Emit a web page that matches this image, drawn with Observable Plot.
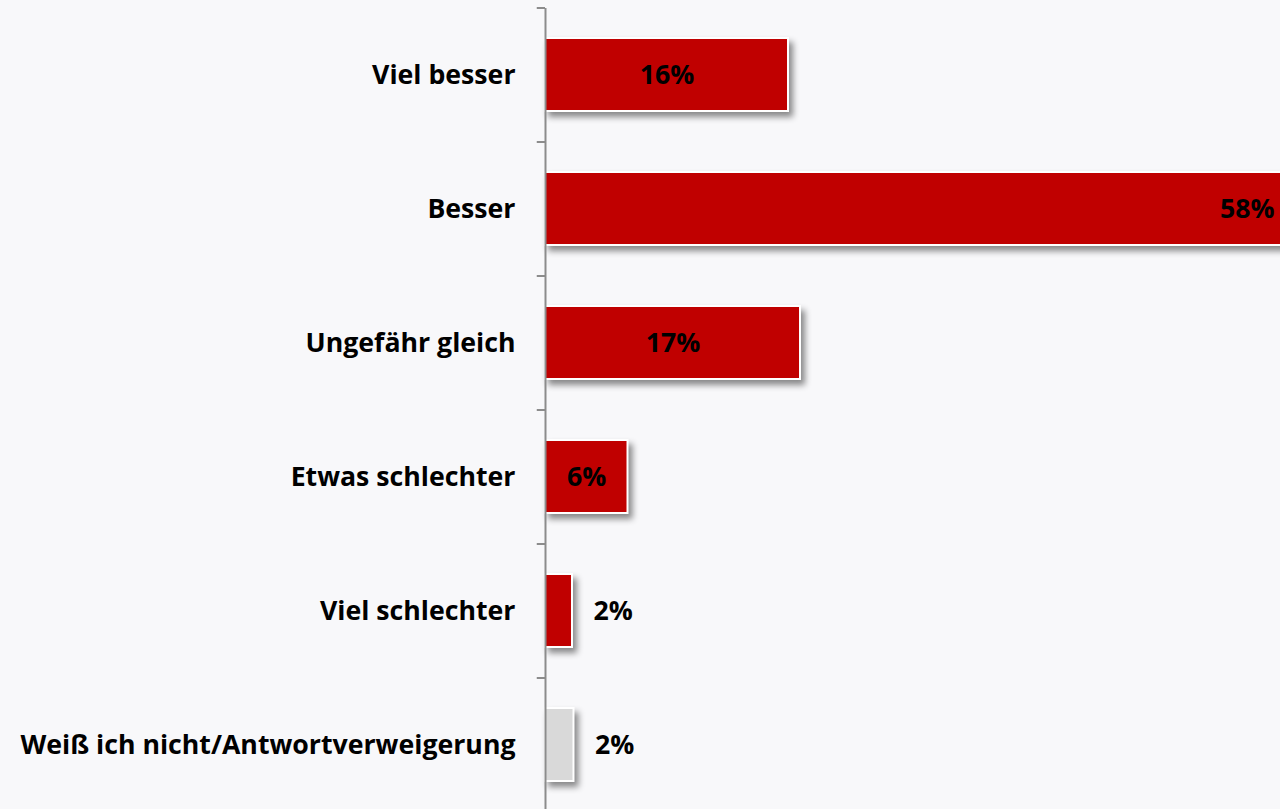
<!DOCTYPE html>
<html>
<head>
<meta charset="utf-8">
<script src="https://cdn.jsdelivr.net/npm/d3@7"></script>
<script src="https://cdn.jsdelivr.net/npm/@observablehq/plot@0.6"></script>
<style>
  html, body { margin: 0; padding: 0; background: #f8f8fa; }
  #chart { width: 1280px; height: 809px; overflow: hidden; }
  #chart svg { overflow: hidden; }
</style>
</head>
<body>
<div id="chart"></div>
<script>
const categories = ["Viel besser", "Besser", "Ungefähr gleich", "Etwas schlechter", "Viel schlechter", "Weiß ich nicht/Antwortverweigerung"];
const values = [16.2, 58, 17.0, 5.5, 1.8, 1.9];
const valueLabels = ["16%", "58%", "17%", "6%", "2%", "2%"];
const colors = ["#c00000", "#c00000", "#c00000", "#c00000", "#c00000", "#d9d9d9"];

const data = categories.map((c, i) => ({category: c, value: values[i], label: valueLabels[i], color: colors[i]}));
const xMax = 49;
const inside = data.filter(d => d.value >= 5 && d.value <= xMax);
const clipped = data.filter(d => d.value > xMax);
const outside = data.filter(d => d.value < 5);

const font = "'Open Sans', Lato, sans-serif";
const fs = 26.7;

const plot = Plot.plot({
  width: 1280,
  height: 812,
  marginLeft: 545,
  marginRight: 0,
  marginTop: 8,
  marginBottom: 0,
  style: {background: "#f8f8fa", fontFamily: font, color: "#000"},
  x: {domain: [0, xMax], axis: null},
  y: {domain: categories, paddingInner: 0.455, paddingOuter: 0.2275, label: null},
  color: {type: "identity"},
  marks: [
    Plot.barX(data, {y: "category", x: "value", fill: "color", stroke: "#ffffff", strokeWidth: 2}),
    Plot.ruleX([0], {stroke: "#8c8c8c", strokeWidth: 2}),
    Plot.ruleY(categories, {y: d => d, x1: -0.55, x2: 0, dy: -67, stroke: "#8c8c8c", strokeWidth: 2}),
    Plot.axisY({tickSize: 0, tickPadding: 30, fontSize: fs, fontWeight: "bold", fill: "#000"}),
    Plot.text(inside, {y: "category", x: d => d.value / 2, text: "label", fontSize: fs, fontWeight: "bold", fill: "#000"}),
    Plot.text(clipped, {y: "category", x: xMax, text: "label", textAnchor: "end", dx: -6, fontSize: fs, fontWeight: "bold", fill: "#000"}),
    Plot.text(outside, {y: "category", x: "value", text: "label", textAnchor: "start", dx: 21, fontSize: fs, fontWeight: "bold", fill: "#000"})
  ]
});

d3.select(plot).selectAll("g[aria-label='bar']").style("filter", "drop-shadow(4px 5px 3px rgba(0,0,0,0.45))");
document.getElementById("chart").appendChild(plot);
</script>
</body>
</html>
